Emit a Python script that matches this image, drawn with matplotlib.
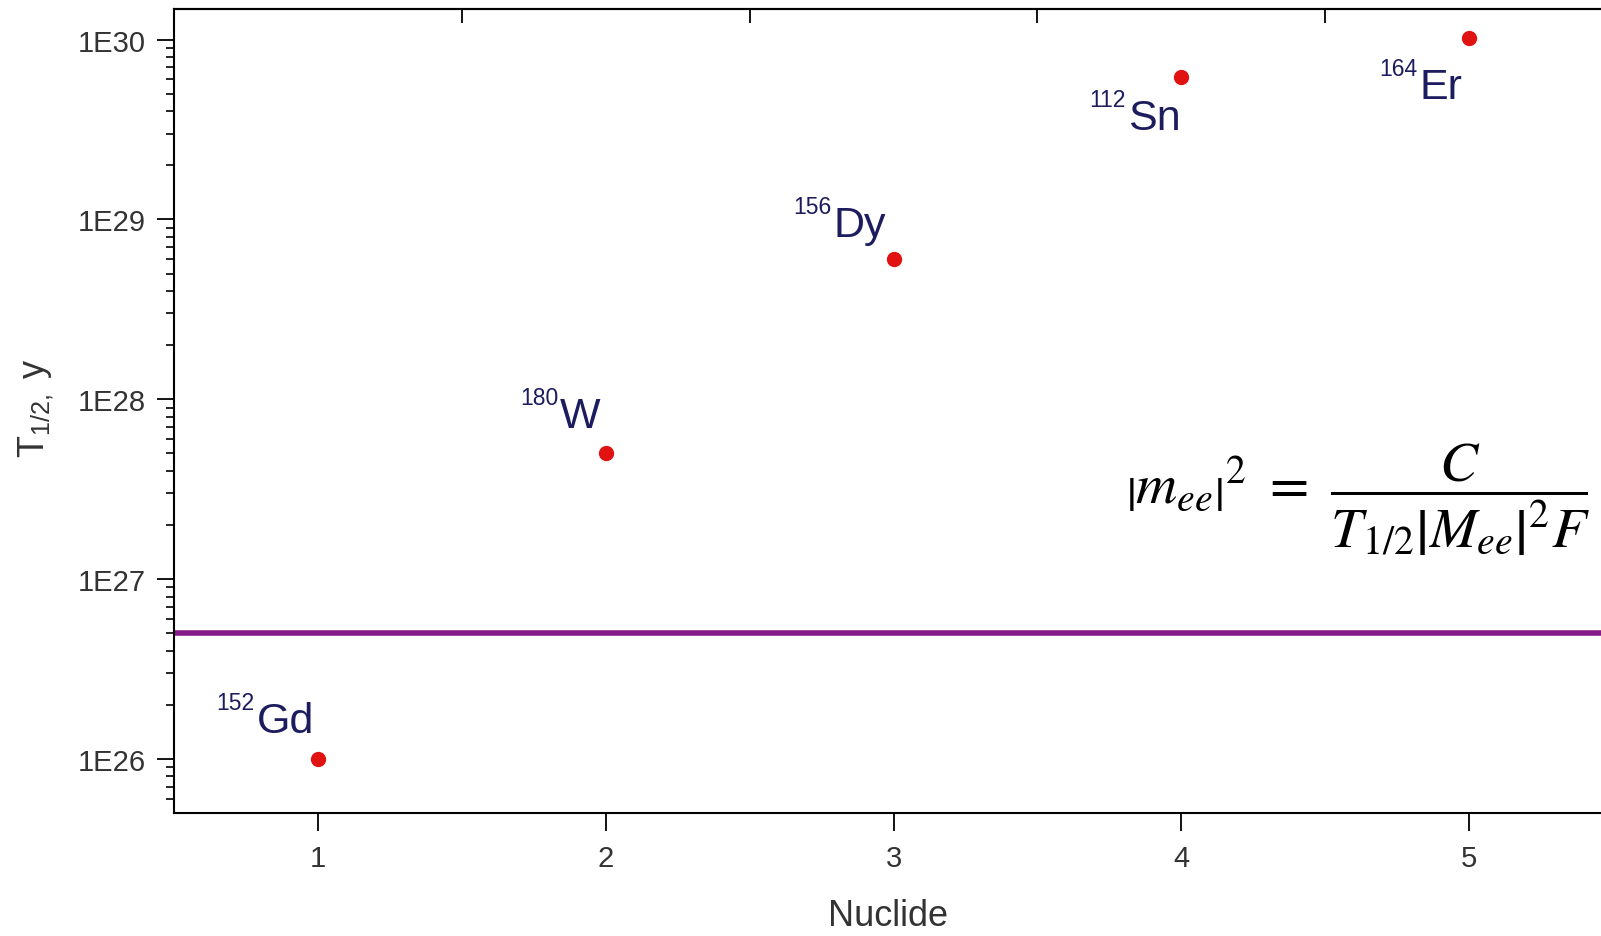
import numpy as np
import matplotlib.pyplot as plt
from matplotlib.ticker import FuncFormatter, LogLocator, NullFormatter, FixedLocator

# ---------------------------------------------------------------------------
# Data
# ---------------------------------------------------------------------------

nuclides     = ["Gd", "W", "Dy", "Sn", "Er"]
mass_numbers = ["152", "180", "156", "112", "164"]
position     = [1, 2, 3, 4, 5]
half_life    = [1.0e26, 5.0e27, 6.0e28, 6.2e29, 1.02e30]   # T1/2, y
limit        = 5e26                                        # horizontal limit line

# where each label sits relative to its point (pixels): symbol right edge, baseline
label_dx = [-4, -5, -8, -1, -7]
label_dy = [27, 26, 23, -52, -60]

plt.rcParams["font.family"] = ["Liberation Sans", "DejaVu Sans"]
plt.rcParams["mathtext.fontset"] = "custom"
plt.rcParams["mathtext.rm"] = "Liberation Sans"
plt.rcParams["mathtext.it"] = "Liberation Sans"

W, H = 1601, 937
fig = plt.figure(figsize=(W / 100, H / 100), dpi=100)
ax = fig.add_axes([174 / W, 123 / H, (1613 - 174) / W, (927 - 123) / H])

ax.axhline(limit, color="#86198a", lw=4, zorder=2)
ax.plot(position, half_life, "o", color="#e01212", ms=10, zorder=3)

for x, y, sym, mass, dx, dy in zip(position, half_life, nuclides, mass_numbers,
                                   label_dx, label_dy):
    t = ax.annotate(sym, (x, y), xytext=(dx, dy), textcoords="offset pixels",
                    ha="right", va="baseline", fontsize=31, color="#1c1c5e")
    ax.annotate(mass, xy=(0, 1), xycoords=t, xytext=(-2, 10),
                textcoords="offset pixels", ha="right", va="top",
                fontsize=16.5, color="#1c1c5e")

# axes
ax.set_yscale("log")
ax.set_xlim(0.5, 5.5)
ax.set_ylim(10 ** 25.7, 10 ** 30.17)
ax.set_xticks(position)
ax.yaxis.set_major_locator(LogLocator(base=10, numticks=10))
ax.yaxis.set_minor_locator(LogLocator(base=10, subs=np.arange(2, 10), numticks=20))
ax.yaxis.set_major_formatter(FuncFormatter(lambda v, p: f"1E{int(round(np.log10(v)))}"))
ax.yaxis.set_minor_formatter(NullFormatter())

for s in ax.spines.values():
    s.set_linewidth(1.5)
ax.tick_params(axis="y", which="major", length=12, width=1.3, pad=8,
               labelsize=21, labelcolor="#333333")
ax.tick_params(axis="y", which="minor", length=6, width=1.2)
ax.tick_params(axis="x", which="major", length=13, width=1.3, pad=9,
               labelsize=21, labelcolor="#333333")

top = ax.secondary_xaxis("top")
top.xaxis.set_major_locator(FixedLocator([1.5, 2.5, 3.5, 4.5]))
top.tick_params(direction="in", length=10, width=1.3, labeltop=False)
top.spines["top"].set_linewidth(1.5)

fig.text(888 / W, 1 - 917 / H, "Nuclide", fontsize=26, color="#333333",
         ha="center", va="center")
fig.text(36 / W, 1 - 408 / H, r"$\mathregular{T_{1/2,}\ y}$", fontsize=26,
         color="#333333", rotation=90, ha="center", va="center")

# formula
fig.text(1126 / W, 1 - 500 / H,
         r"$\left|m_{ee}\right|^2\ =\ \dfrac{C}{T_{1/2}\left|M_{ee}\right|^2 F}$",
         fontsize=41, math_fontfamily="stix", ha="left", va="center",
         color="black")

fig.savefig("out.png", dpi=100)
